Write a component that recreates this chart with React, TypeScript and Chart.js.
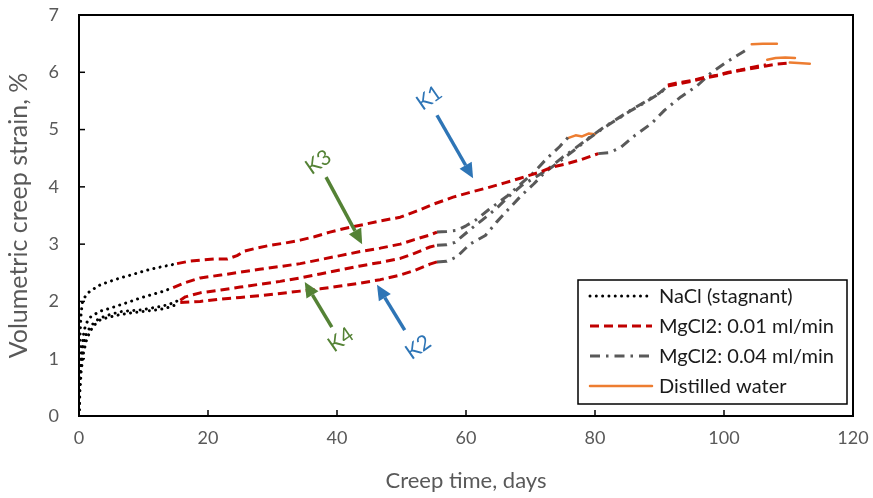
import React, { useEffect, useRef } from 'react';
import { Chart, registerables } from 'chart.js';
Chart.register(...registerables);

// ---------- axis ticks ----------
const xTickValues = [0, 20, 40, 60, 80, 100, 120];
const yTickValues = [0, 1, 2, 3, 4, 5, 6, 7];
const xTitle = 'Creep time, days';
const yTitle = 'Volumetric creep strain, %';

// ---------- legend names ----------
const seriesNames = ['NaCl (stagnant)', 'MgCl2: 0.01 ml/min', 'MgCl2: 0.04 ml/min', 'Distilled water'];

// ---------- K1 ----------
const k1NaCl = [[0, 0], [0.03, 0.4], [0.06, 0.8], [0.1, 1.1], [0.18, 1.45], [0.3, 1.75], [0.5, 1.97], [0.8, 2.06], [1.4, 2.15], [2.3, 2.22], [3.3, 2.29], [4.8, 2.35], [6.4, 2.41], [8, 2.46], [9.5, 2.51], [11, 2.56], [12.6, 2.6], [14.4, 2.64], [15.2, 2.66]];
const k1Mg001 = [[15.2, 2.66], [17, 2.7], [18.8, 2.72], [21, 2.74], [23, 2.74], [24.5, 2.8], [25.7, 2.88], [27.5, 2.93], [29.6, 2.98], [32, 3.02], [34.3, 3.07], [36.5, 3.13], [38.9, 3.21], [41, 3.27], [43.6, 3.33], [46.5, 3.4], [49.8, 3.47], [52.9, 3.6], [55, 3.7], [58, 3.82], [60.5, 3.9], [63.2, 3.98], [66, 4.07], [68.4, 4.15], [71.5, 4.26], [73.5, 4.35], [75.5, 4.4], [77.7, 4.47], [80.5, 4.58]];
const k1Mg004 = [[80.5, 4.58], [82.3, 4.6], [84, 4.69], [86.2, 4.9], [88.8, 5.11], [90.8, 5.34], [93.3, 5.57], [95.8, 5.76], [98, 5.99], [100.4, 6.18], [103, 6.36], [104, 6.43]];
const k1Water = [[104.3, 6.49], [106, 6.5], [108.2, 6.5]];

// ---------- K2 ----------
const k2NaCl = [[0, 0], [0.15, 0.45], [0.35, 0.8], [0.7, 1.1], [1.1, 1.3], [1.7, 1.48], [2.5, 1.6], [3.3, 1.68], [4.8, 1.73], [6.4, 1.77], [8, 1.8], [9.5, 1.82], [11, 1.84], [12.6, 1.86], [14, 1.9], [15.5, 1.96]];
const k2Mg001 = [[15.7, 1.98], [18.8, 2.0], [22, 2.04], [25, 2.07], [28, 2.1], [31.2, 2.14], [34.3, 2.18], [37.4, 2.22], [40.5, 2.27], [43.6, 2.32], [46.7, 2.38], [49.8, 2.46], [52, 2.54], [54.4, 2.65], [55.5, 2.69]];
const k2Mg004 = [[55.5, 2.69], [57, 2.7], [58.6, 2.78], [60.6, 3.0], [63, 3.15], [64.7, 3.38], [66.5, 3.6], [68.5, 3.84], [70.5, 4.05], [72.3, 4.26], [74.6, 4.45], [77, 4.66], [79, 4.84], [81.5, 5.04], [83.6, 5.19], [85.7, 5.34], [88, 5.49], [90, 5.63], [91.3, 5.75]];
const k2Mg001b = [[91.3, 5.76], [93, 5.8], [95.2, 5.85], [97, 5.9], [98.9, 5.94], [100.7, 5.99], [102.5, 6.03], [104.5, 6.07], [106.5, 6.11], [108, 6.14], [110, 6.16]];
const k2Water = [[110.2, 6.17], [111.5, 6.16], [113.3, 6.15]];

// ---------- K3 ----------
const k3NaCl = [[0, 0], [0.1, 0.5], [0.25, 0.9], [0.5, 1.25], [0.8, 1.5], [1.2, 1.63], [1.7, 1.72], [2.5, 1.78], [3.3, 1.83], [4.8, 1.88], [6.4, 1.94], [8, 2.0], [9.5, 2.06], [11, 2.11], [12.6, 2.16], [14.6, 2.24]];
const k3Mg001 = [[14.6, 2.24], [16.5, 2.33], [18.8, 2.41], [22, 2.46], [25, 2.51], [28, 2.56], [31.2, 2.61], [34.3, 2.66], [37.4, 2.73], [40.5, 2.8], [43.6, 2.87], [46.7, 2.93], [49.8, 3.0], [52, 3.08], [54.4, 3.16], [55.5, 3.21]];
const k3Mg004 = [[55.5, 3.21], [57, 3.22], [58.6, 3.24], [60, 3.32], [61.5, 3.42], [63.5, 3.6], [66.5, 3.85], [68.5, 4.05], [70.6, 4.26], [72.4, 4.48], [74.5, 4.7], [75.8, 4.86]];
const k3Water = [[75.8, 4.85], [77, 4.9], [78, 4.88], [79, 4.93], [80, 4.92]];

// ---------- K4 ----------
const k4NaCl = [[0, 0], [0.1, 0.45], [0.3, 0.85], [0.6, 1.2], [1, 1.4], [1.7, 1.55], [2.5, 1.65], [3.3, 1.71], [4.8, 1.77], [6.4, 1.82], [8, 1.84], [9.5, 1.85], [11, 1.88], [12.6, 1.91], [14, 1.95], [15.5, 2.02]];
const k4Mg001 = [[15.7, 2.02], [16.5, 2.08], [18.8, 2.15], [22, 2.2], [25, 2.25], [28, 2.3], [31.2, 2.35], [34.3, 2.41], [37.4, 2.48], [40.5, 2.55], [43.6, 2.62], [46.7, 2.68], [49.8, 2.75], [52, 2.84], [54.4, 2.95], [55.5, 2.98]];
const k4Mg004 = [[55.5, 2.98], [57, 2.99], [58.3, 3.03], [60.6, 3.25], [62.5, 3.42], [64.7, 3.62], [66.5, 3.82], [68.7, 4.03], [70.5, 4.15], [72.6, 4.3], [75, 4.52], [77, 4.68], [79, 4.85], [81.5, 5.05], [83.6, 5.2], [85.7, 5.35], [88, 5.5], [90, 5.64], [91.3, 5.76]];
const k4Mg001b = [[91.3, 5.78], [93, 5.82], [95.2, 5.86], [97, 5.91], [98.9, 5.95], [100.7, 6.0], [102.5, 6.04], [104.5, 6.09], [106.5, 6.13]];
const k4Water = [[106.7, 6.22], [108, 6.25], [109.5, 6.26], [111, 6.25]];

// ---------- annotations (data units) ----------
const arrowLabels = ['K1', 'K2', 'K3', 'K4'];
const arrowTails = [[55.5, 5.25], [50.5, 1.5], [38.3, 4.17], [39.2, 1.55]];
const arrowTips = [[61.1, 4.15], [46.2, 2.29], [43.9, 3.0], [35.0, 2.34]];
const arrowTextPos = [[54.3, 5.55], [52.6, 1.2], [37.1, 4.43], [40.6, 1.33]];

// ---------- styles ----------
const FONT = 'Lato, "Open Sans", sans-serif';
const TEXT_GREY = '#595959';
const arrowColors = ['#2E75B6', '#2E75B6', '#548235', '#548235'];
const seriesStyles = [
  { color: '#000000', width: 3, dash: [0.01, 6.3], cap: 'round' },
  { color: '#C00000', width: 3, dash: [9, 5], cap: 'butt' },
  { color: '#595959', width: 3, dash: [10, 6, 2.5, 6], cap: 'butt' },
  { color: '#ED7D31', width: 2.5, dash: [], cap: 'round' },
];
// target plot-area box in canvas pixels
const AREA = { left: 79, top: 15, right: 853, bottom: 416 };

// segment table: [seriesIndex, points]
const segments: [number, number[][]][] = [
  [0, k1NaCl], [0, k2NaCl], [0, k3NaCl], [0, k4NaCl],
  [1, k1Mg001], [1, k2Mg001], [1, k3Mg001], [1, k4Mg001], [1, k2Mg001b], [1, k4Mg001b],
  [2, k1Mg004], [2, k2Mg004], [2, k3Mg004], [2, k4Mg004],
  [3, k1Water], [3, k2Water], [3, k3Water], [3, k4Water],
];

const overlayPlugin = {
  id: 'overlay',
  afterDatasetsDraw(chart: any) {
    const ctx = chart.ctx;
    const { left, right, top, bottom } = chart.chartArea;
    const xs = chart.scales.x;
    const ys = chart.scales.y;
    ctx.save();

    // arrows
    arrowLabels.forEach((lab, i) => {
      const x1 = xs.getPixelForValue(arrowTails[i][0]);
      const y1 = ys.getPixelForValue(arrowTails[i][1]);
      const x2 = xs.getPixelForValue(arrowTips[i][0]);
      const y2 = ys.getPixelForValue(arrowTips[i][1]);
      const ang = Math.atan2(y2 - y1, x2 - x1);
      const headLen = 15;
      const headW = 7;
      const bx = x2 - headLen * Math.cos(ang);
      const by = y2 - headLen * Math.sin(ang);
      ctx.strokeStyle = arrowColors[i];
      ctx.fillStyle = arrowColors[i];
      ctx.lineWidth = 3.5;
      ctx.setLineDash([]);
      ctx.lineCap = 'butt';
      ctx.beginPath();
      ctx.moveTo(x1, y1);
      ctx.lineTo(bx, by);
      ctx.stroke();
      ctx.beginPath();
      ctx.moveTo(x2, y2);
      ctx.lineTo(bx + headW * Math.sin(ang), by - headW * Math.cos(ang));
      ctx.lineTo(bx - headW * Math.sin(ang), by + headW * Math.cos(ang));
      ctx.closePath();
      ctx.fill();

      const tx = xs.getPixelForValue(arrowTextPos[i][0]);
      const ty = ys.getPixelForValue(arrowTextPos[i][1]);
      ctx.save();
      ctx.translate(tx, ty);
      ctx.rotate(-35 * Math.PI / 180);
      ctx.font = `21px ${FONT}`;
      ctx.textAlign = 'center';
      ctx.textBaseline = 'middle';
      ctx.fillText(lab, 0, 0);
      ctx.restore();
    });

    // legend
    const lx0 = right - 275;
    const lx1 = right - 6;
    const ly0 = 280;
    const ly1 = 404;
    ctx.fillStyle = '#ffffff';
    ctx.fillRect(lx0, ly0, lx1 - lx0, ly1 - ly0);
    ctx.strokeStyle = '#000000';
    ctx.lineWidth = 1.5;
    ctx.setLineDash([]);
    ctx.strokeRect(lx0, ly0, lx1 - lx0, ly1 - ly0);
    seriesNames.forEach((name, i) => {
      const st = seriesStyles[i];
      const yy = ly0 + 16 + i * 30;
      ctx.strokeStyle = st.color;
      ctx.lineWidth = st.width;
      ctx.lineCap = st.cap;
      ctx.setLineDash(st.dash);
      ctx.beginPath();
      ctx.moveTo(lx0 + 12, yy);
      ctx.lineTo(lx0 + 74, yy);
      ctx.stroke();
      ctx.setLineDash([]);
      ctx.fillStyle = '#1a1a1a';
      ctx.font = `20px ${FONT}`;
      ctx.textAlign = 'left';
      ctx.textBaseline = 'middle';
      ctx.fillText(name, lx0 + 81, yy + 1);
    });

    // frame
    ctx.strokeStyle = '#000000';
    ctx.lineWidth = 2;
    ctx.setLineDash([]);
    ctx.lineCap = 'butt';
    ctx.strokeRect(left, top, right - left, bottom - top);
    // inner tick marks
    ctx.lineWidth = 1.5;
    xTickValues.forEach((v) => {
      const px = xs.getPixelForValue(v);
      ctx.beginPath();
      ctx.moveTo(px, bottom);
      ctx.lineTo(px, bottom - 6);
      ctx.stroke();
    });
    yTickValues.forEach((v) => {
      const py = ys.getPixelForValue(v);
      ctx.beginPath();
      ctx.moveTo(left, py);
      ctx.lineTo(left + 6, py);
      ctx.stroke();
    });
    ctx.restore();
  },
};

export default function App() {
  const ref = useRef<HTMLCanvasElement>(null);
  useEffect(() => {
    if (!ref.current) return;
    const datasets = segments.map(([s, pts]) => {
      const st = seriesStyles[s];
      return {
        label: seriesNames[s],
        data: pts.map(([x, y]) => ({ x, y })),
        showLine: true,
        pointRadius: 0,
        borderColor: st.color,
        backgroundColor: st.color,
        borderWidth: st.width,
        borderDash: st.dash,
        borderCapStyle: st.cap,
        borderJoinStyle: 'round',
        tension: 0,
        fill: false,
      };
    });
    const pad = { left: 0, top: 15, right: 20, bottom: 0 };
    const chart = new Chart(ref.current, {
      type: 'scatter',
      data: { datasets },
      options: {
        responsive: false,
        animation: false,
        devicePixelRatio: 1,
        layout: { padding: pad },
        plugins: { legend: { display: false }, tooltip: { enabled: false } },
        scales: {
          x: {
            type: 'linear',
            min: 0,
            max: 120,
            afterFit: (scale: any) => { scale.height = 82; scale.paddingLeft = 0; scale.paddingRight = 0; },
            afterBuildTicks: (scale: any) => { scale.ticks = xTickValues.map((v) => ({ value: v })); },
            grid: { display: false, drawTicks: false },
            border: { display: false },
            ticks: { color: TEXT_GREY, font: { family: FONT, size: 18 }, padding: 11, maxRotation: 0 },
            title: { display: true, text: xTitle, color: TEXT_GREY, font: { family: FONT, size: 22 }, padding: { top: 0, bottom: 4 } },
          },
          y: {
            type: 'linear',
            min: 0,
            max: 7,
            afterFit: (scale: any) => { scale.width = 79; scale.paddingTop = 0; scale.paddingBottom = 0; },
            afterBuildTicks: (scale: any) => { scale.ticks = yTickValues.map((v) => ({ value: v })); },
            grid: { display: false, drawTicks: false },
            border: { display: false },
            ticks: { color: TEXT_GREY, font: { family: FONT, size: 18 }, padding: 20 },
            title: { display: true, text: yTitle, color: TEXT_GREY, font: { family: FONT, size: 25 }, padding: { top: 4, bottom: 0 } },
          },
        },
      },
      plugins: [overlayPlugin],
    } as any);
    // nudge layout padding so the plot area lands on the target box
    for (let k = 0; k < 3; k++) {
      const ca = chart.chartArea;
      const dl = AREA.left - ca.left;
      const dt = AREA.top - ca.top;
      const dr = ca.right - AREA.right;
      const db = ca.bottom - AREA.bottom;
      if (Math.abs(dl) + Math.abs(dt) + Math.abs(dr) + Math.abs(db) < 0.5) break;
      pad.left += dl;
      pad.top += dt;
      pad.right += dr;
      pad.bottom += db;
      (chart.options as any).layout.padding = { ...pad };
      chart.update();
    }
    return () => chart.destroy();
  }, []);
  return (
    <div style={{ position: 'fixed', left: 0, top: 0, width: 873, height: 498, background: '#fff' }}>
      <canvas ref={ref} width={873} height={498} />
    </div>
  );
}
